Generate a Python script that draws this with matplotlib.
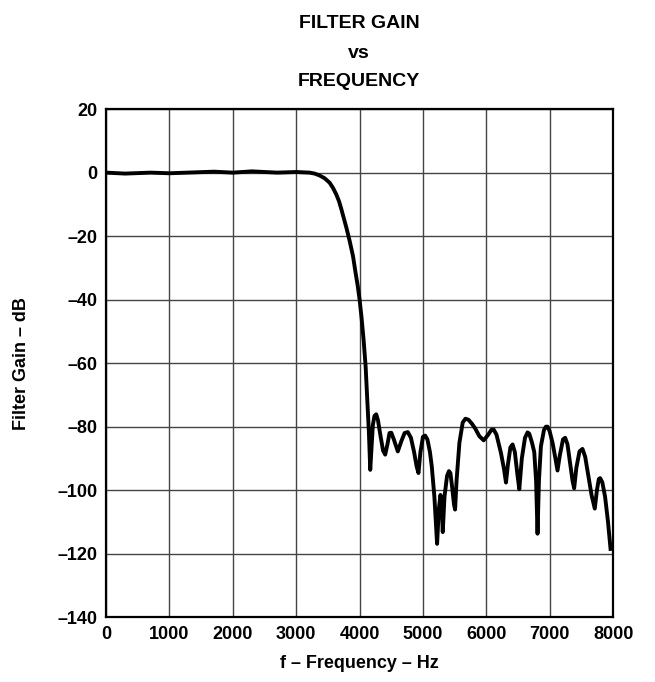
import matplotlib
matplotlib.use("Agg")
import matplotlib.pyplot as plt

# gain curve (Hz, dB)
freq_hz = [0, 300, 700, 1000, 1300, 1700, 2000, 2300, 2700, 3000, 3100, 3213,
           3290, 3370, 3450, 3528, 3580, 3633, 3675, 3712, 3750, 3791, 3843,
           3896, 3937, 3970, 4000, 4030, 4063, 4095, 4121,
           4147, 4168, 4190, 4209, 4235, 4262, 4290, 4331, 4370, 4404, 4440,
           4472, 4500, 4540, 4603, 4660, 4710, 4761, 4810, 4860, 4900, 4929,
           4960, 5000, 5034, 5070, 5110, 5139, 5180, 5223, 5250, 5276, 5295,
           5312, 5340, 5380, 5410, 5433, 5460, 5490, 5507, 5530, 5575, 5627,
           5670, 5717, 5770, 5822, 5890, 5958, 6030, 6080, 6115, 6160, 6231,
           6280, 6310, 6340, 6380, 6414, 6450, 6490, 6520, 6560, 6610, 6650,
           6677, 6720, 6756, 6785, 6808, 6830, 6861, 6910, 6940, 6966, 7000,
           7045, 7090, 7123, 7160, 7210, 7244, 7280, 7333, 7360, 7386, 7420,
           7470, 7517, 7560, 7611, 7660, 7711, 7745, 7775, 7795, 7830, 7874,
           7920, 7960]
gain_db = [0.0, -0.3, 0.0, -0.2, 0.0, 0.3, 0.0, 0.4, 0.0, 0.2, 0.1, 0.0,
           -0.3, -0.9, -1.8, -3.2, -4.8, -6.9, -9.0, -11.5, -14.3, -17.3, -21.5,
           -26.3, -31.6, -35.6, -40.0, -45.5, -52.6, -61.0, -71.3,
           -81.9, -93.6, -86.0, -79.5, -76.6, -76.1, -78.0, -83.0, -87.5, -88.8, -85.5,
           -82.0, -81.9, -84.0, -87.8, -84.5, -82.0, -81.7, -83.5, -88.0, -92.5, -94.6,
           -88.0, -83.2, -82.8, -84.0, -88.0, -92.5, -102.0, -116.9, -106.0, -101.5, -104.0,
           -113.2, -102.0, -95.5, -94.0, -94.6, -99.0, -104.5, -106.1, -97.0, -85.1, -78.7,
           -77.5, -77.8, -79.0, -80.5, -83.0, -84.3, -82.5, -81.0, -80.9, -82.5, -88.3,
           -93.5, -97.6, -92.0, -86.5, -85.6, -88.0, -95.0, -99.7, -90.0, -83.5, -81.8,
           -82.2, -85.0, -88.0, -97.0, -113.7, -97.0, -86.2, -81.0, -80.0, -80.0, -81.5,
           -85.1, -90.0, -93.8, -89.0, -84.0, -83.5, -85.5, -93.0, -97.0, -99.4, -93.0,
           -87.8, -87.0, -89.5, -95.7, -101.5, -105.8, -100.0, -96.5, -96.2, -97.5, -102.1,
           -110.0, -118.5]

xticks = [0, 1000, 2000, 3000, 4000, 5000, 6000, 7000, 8000]
yticks = [20, 0, -20, -40, -60, -80, -100, -120, -140]
ytick_labels = ["20", "0", "–20", "–40", "–60", "–80", "–100", "–120", "–140"]

plt.rcParams['font.family'] = ['Liberation Sans', 'DejaVu Sans']
plt.rcParams['font.weight'] = 'bold'

fig = plt.figure(figsize=(6.55, 6.82), dpi=100)
ax = fig.add_axes([0.162, 0.095, 0.774, 0.745])

ax.plot(freq_hz, gain_db, color='black', lw=2.8, solid_joinstyle='round', zorder=3)

ax.set_xlim(0, 8000)
ax.set_ylim(-140, 20)
ax.set_xticks(xticks)
ax.set_xticklabels([str(t) for t in xticks], fontsize=13, fontweight='bold')
ax.set_yticks(yticks)
ax.set_yticklabels(ytick_labels, fontsize=13, fontweight='bold')
ax.tick_params(length=0, pad=6)
ax.tick_params(axis='x', pad=6)
ax.grid(True, color='#444444', lw=1.0)

for s in ax.spines.values():
    s.set_linewidth(1.6)
    s.set_zorder(4)

ax.set_xlabel("f – Frequency – Hz", fontsize=13, fontweight='bold', labelpad=9)
ax.set_ylabel("Filter Gain – dB", fontsize=13, fontweight='bold', labelpad=20)

fig.text(0.548, 0.966, "FILTER GAIN", ha='center', va='center', fontsize=14, fontweight='bold')
fig.text(0.548, 0.921, "vs", ha='center', va='center', fontsize=14, fontweight='bold')
fig.text(0.548, 0.880, "FREQUENCY", ha='center', va='center', fontsize=14, fontweight='bold')

fig.savefig("out.png", dpi=100)
